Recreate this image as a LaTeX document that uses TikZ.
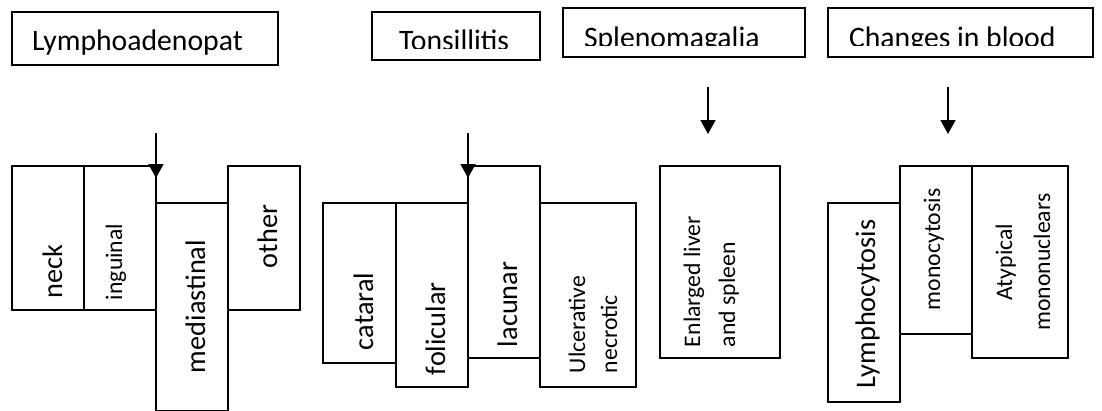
\documentclass[tikz,border=0pt]{standalone}
\usepackage{fontspec}
\setmainfont{Carlito}
\usetikzlibrary{arrows.meta}
\newcommand{\bx}[5]{\node[box, minimum width=#4pt-#2pt, minimum height=#5pt-#3pt] (#1) at (#2,#3) {};}
\begin{document}
\begin{tikzpicture}[x=1pt,y=-1pt,
  box/.style={draw=black, line width=1.5pt, fill=white, inner sep=0pt, outer sep=0pt, anchor=north west},
  head/.style={font=\fontsize{29.7}{34}\selectfont, inner sep=0pt, outer sep=0pt, anchor=base west},
  big/.style={font=\fontsize{28.3}{34}\selectfont, inner sep=0pt, outer sep=0pt},
  small/.style={font=\fontsize{23.7}{28}\selectfont, inner sep=0pt, outer sep=0pt},
  vlab/.style={rotate=90, anchor=base west},
  arr/.style={line width=1.5pt, -{Triangle[width=15pt,length=14pt]}}]
\useasboundingbox (0,0) rectangle (1102,410);
\fill[white] (0,0) rectangle (1102,410);

% top boxes
\bx{t1}{12}{12}{278}{65}
\bx{t2}{372}{12}{540}{60}
\bx{t3}{563}{8}{805}{57}
\bx{t4}{828}{8}{1093}{57}
\node[head] (t1l) at (32,50) {Lymphoadenopat};
\begin{scope}
\clip (372,0) rectangle (540,48);
\node[head] (t2l) at (399,50) {Tonsillitis};
\end{scope}
\begin{scope}
\clip (563,0) rectangle (805,45);
\node[head] (t3l) at (584,47) {Splenomagalia};
\end{scope}
\begin{scope}
\clip (828,0) rectangle (1093,45);
\node[head] (t4l) at (849,47) {Changes in blood};
\end{scope}

% lymph group
\bx{neck}{12}{166}{84}{310}
\bx{ingu}{84}{166}{156}{310}
\bx{medi}{156}{203}{228}{411}
\bx{othr}{228}{166}{300}{310}
\node[big, vlab] (neckl) at (62,298) {neck};
\node[small, vlab] (ingul) at (122,300) {inguinal};
\node[big, vlab] (medil) at (205,373) {mediastinal};
\node[big, vlab] (othrl) at (277,268) {other};

% tonsil group
\bx{cata}{323}{203}{396}{363}
\bx{foli}{396}{203}{468}{387}
\bx{lacu}{468}{166}{540}{358}
\bx{ulce}{540}{203}{636}{387}
\node[big, vlab] (catal) at (373,350) {cataral};
\node[big, vlab] (folil) at (445,375) {folicular};
\node[big, vlab] (lacul) at (517,347) {lacunar};
\node[small, vlab] (ulcel) at (585,373) {Ulcerative};
\node[small, vlab] (necrl) at (617,373) {necrotic};

% spleen
\bx{enla}{660}{166}{780}{358}
\node[small, vlab] (enlal) at (700,347) {Enlarged liver};
\node[small, vlab] (splel) at (735,347) {and spleen};

% blood
\bx{lymp}{828}{203}{900}{402}
\bx{mono}{900}{166}{972}{334}
\bx{atyp}{972}{166}{1068}{358}
\node[big, vlab] (lympl) at (875,388) {Lymphocytosis};
\node[small, vlab] (monol) at (940,310) {monocytosis};
\node[small, rotate=90, anchor=base] (atypl) at (1012,262) {Atypical};
\node[small, rotate=90, anchor=base] (mnucl) at (1050,262) {mononuclears};

% arrows
\coordinate (a1s) at (156,133); \coordinate (a1e) at (156,178);
\coordinate (a2s) at (468,133); \coordinate (a2e) at (468,178);
\coordinate (a3s) at (708,87);  \coordinate (a3e) at (708,134);
\coordinate (a4s) at (948,87);  \coordinate (a4e) at (948,134);
\draw[arr] (a1s) -- (a1e);
\draw[arr] (a2s) -- (a2e);
\draw[arr] (a3s) -- (a3e);
\draw[arr] (a4s) -- (a4e);
\end{tikzpicture}
\end{document}
